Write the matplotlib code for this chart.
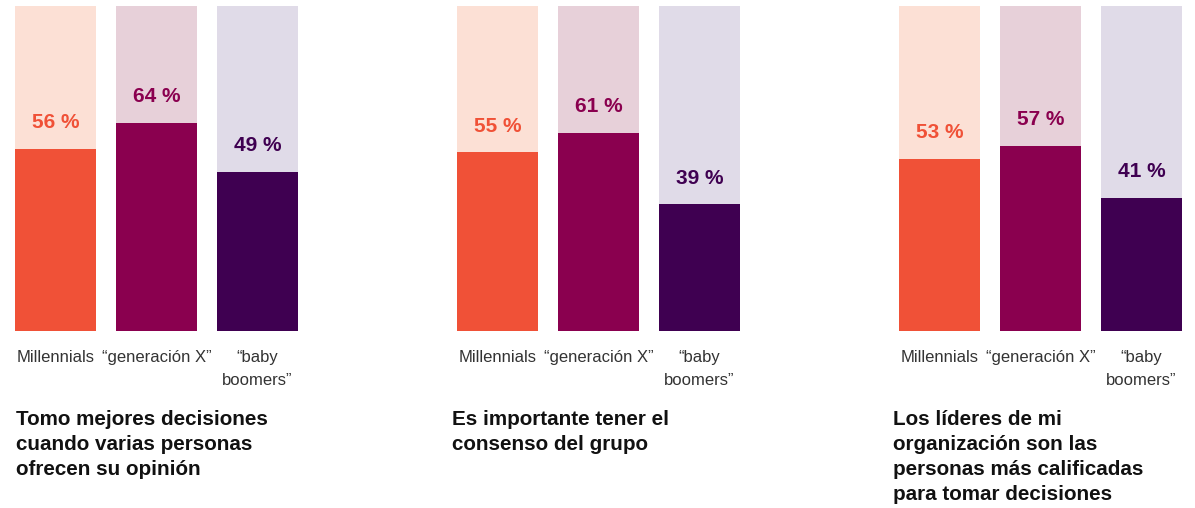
import matplotlib.pyplot as plt

plt.rcParams['font.family'] = ['Liberation Sans', 'DejaVu Sans']

# survey answers, % that agree
groups = ['Millennials', '“generación X”', '“baby\nboomers”']
titles = [
    'Tomo mejores decisiones\ncuando varias personas\nofrecen su opinión',
    'Es importante tener el\nconsenso del grupo',
    'Los líderes de mi\norganización son las\npersonas más calificadas\npara tomar decisiones',
]
values_q1 = [56, 64, 49]
values_q2 = [55, 61, 39]
values_q3 = [53, 57, 41]

dark = ['#F05137', '#8A004F', '#3F0051']
light = ['#FCE0D5', '#E7D0D9', '#E0DBE8']

W, H = 1195, 508
fig = plt.figure(figsize=(W / 100, H / 100), dpi=100)

# left edge of each panel's bars and of its caption, in pixels
lefts = [15, 457, 899]
title_lefts = [16, 452, 893]
for left, tleft, vals, title in zip(lefts, title_lefts,
                                    [values_q1, values_q2, values_q3], titles):
    ax = fig.add_axes([left / W, (H - 331) / H, 283 / W, 325 / H])
    x = range(len(vals))
    ax.bar(x, [100] * len(vals), width=0.802, color=light)
    ax.bar(x, vals, width=0.802, color=dark)
    for i, v in enumerate(vals):
        ax.text(i, v + 8, f'{v} %', ha='center', va='center',
                fontsize=15, fontweight='bold', color=dark[i])
    ax.set_xlim(-0.401, 2.401)
    ax.set_ylim(0, 100)
    ax.set_xticks(list(x))
    ax.set_xticklabels(groups, fontsize=12, color='#333333', linespacing=1.65)
    ax.tick_params(axis='x', length=0, pad=14)
    ax.set_yticks([])
    for s in ax.spines.values():
        s.set_visible(False)
    fig.text(tleft / W, 1 - 410 / H, title, ha='left', va='top',
             fontsize=14.9, fontweight='bold', color='#111111', linespacing=1.4)

fig.savefig('out.png', dpi=100)
